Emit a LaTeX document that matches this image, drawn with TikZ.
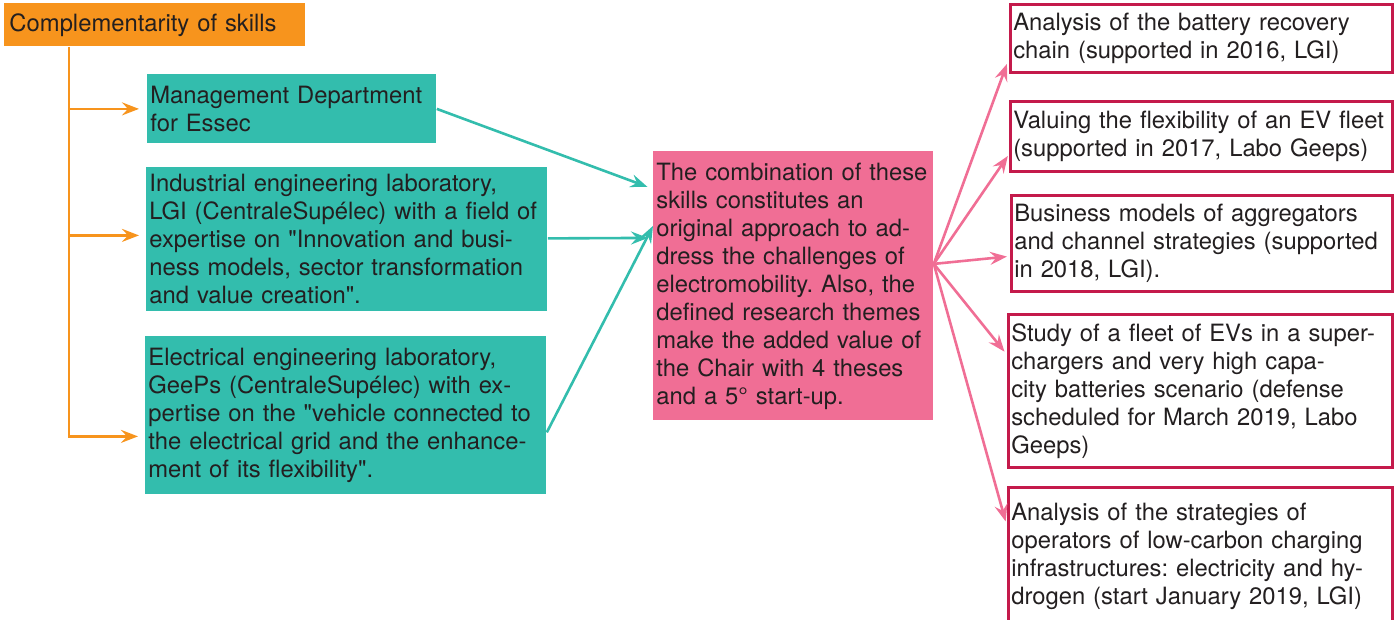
\documentclass[tikz,border=0pt]{standalone}
\usepackage{fontspec}
\setmainfont{TeX Gyre Heros}[Ligatures=TeXOff]
\usetikzlibrary{arrows.meta,calc}

\definecolor{skillorange}{HTML}{F7941D}
\definecolor{labteal}{HTML}{33BDAD}
\definecolor{chairpink}{HTML}{F06E95}
\definecolor{themered}{HTML}{C41A4B}
\definecolor{inkgrey}{HTML}{231F20}

\tikzset{
  box/.style={anchor=north west, align=left, inner xsep=1.5pt, inner ysep=0pt,
    text=inkgrey, font=\fontsize{11.9}{14}\selectfont\frenchspacing},
  labbox/.style={box, fill=labteal},
  themebox/.style={box, draw=themered, line width=1.3pt, fill=white},
  arr/.style={-{Stealth[length=8.5pt,width=6.5pt,inset=3pt]}, line width=1.3pt},
}

\begin{document}
\begin{tikzpicture}[x=0.5pt,y=-0.5pt]
		\useasboundingbox (0,0) rectangle (1399,620);
		% skills and laboratories
		\node[box, fill=skillorange, text width=147.5pt, minimum height=21.5pt] (skills) at (4,3) {\hspace{1pt}Complementarity of skills};
		\node[labbox, text width=141.5pt, minimum height=34.5pt] (mgmt) at (147,74) {Management Department\\for Essec};
		\node[labbox, text width=197.5pt, minimum height=72pt] (lgi) at (146,167) {Industrial engineering laboratory,\\LGI (CentraleSupélec) with a field of\\expertise on "Innovation and busi-\\ness models, sector transformation\\and value creation".};
		\node[labbox, text width=197.5pt, minimum height=79pt] (geeps) at (145,336) {Electrical engineering laboratory,\\GeePs (CentraleSupélec) with ex-\\pertise on the "vehicle connected to\\the electrical grid and the enhance-\\ment of its flexibility".};
		% the chair
		\node[box, fill=chairpink, text width=137pt, minimum height=134.5pt] (combo) at (653,151) {The combination of these\\skills constitutes an\\original approach to ad-\\dress the challenges of\\electromobility. Also, the\\defined research themes\\make the added value of\\the Chair with 4 theses\\and a 5° start-up.};
		% research themes
		\node[themebox, text width=188pt, minimum height=34pt] (th1) at (1009,3) {Analysis of the battery recovery\\chain (supported in 2016, LGI)};
		\node[themebox, text width=188pt, minimum height=35pt] (th2) at (1009,100) {Valuing the flexibility of an EV fleet\\(supported in 2017, Labo Geeps)};
		\node[themebox, text width=187.5pt, minimum height=48pt] (th3) at (1010,194) {Business models of aggregators\\and channel strategies (supported\\in 2018, LGI).};
		\node[themebox, text width=189pt, minimum height=76.5pt] (th4) at (1007,313) {Study of a fleet of EVs in a super-\\chargers and very high capa-\\city batteries scenario (defense\\scheduled for March 2019, Labo\\Geeps)};
		\node[themebox, text width=189pt, minimum height=69pt] (th5) at (1007,486) {Analysis of the strategies of\\operators of low-carbon charging\\infrastructures: electricity and hy-\\drogen (start January 2019, LGI)};
		% orange tree
		\coordinate (trunk) at ([xshift=32.5pt]skills.south west);
		\coordinate (lgiin) at ([yshift=2pt]lgi.west);
		\coordinate (geepsin) at ([yshift=-10.5pt]geeps.west);
		\draw[arr, skillorange, shorten >=3.5pt] (trunk) |- (geepsin);
		\draw[arr, skillorange, shorten >=4pt] (trunk |- mgmt.west) -- (mgmt.west);
		\draw[arr, skillorange, shorten >=3.5pt] (trunk |- lgiin) -- (lgiin);
		% teal arrows
		\draw[arr, labteal, shorten >=3pt] (mgmt.east) -- ([yshift=48.5pt]combo.west);
		\draw[arr, labteal, shorten >=2.5pt] ([yshift=0.5pt]lgi.east) -- ([yshift=24pt]combo.west);
		\draw[arr, labteal] ([yshift=-8.5pt]geeps.east) -- ([yshift=30pt]combo.west);
		% pink fan
		\coordinate (fan) at ([yshift=11pt]combo.east);
		\draw[arr, chairpink, shorten >=3pt] (fan) -- ([yshift=-10pt]th1.west);
		\draw[arr, chairpink, shorten >=1pt] (fan) -- ([yshift=-9pt]th2.west);
		\draw[arr, chairpink, shorten >=1.5pt] (fan) -- ([yshift=-6.5pt]th3.west);
		\draw[arr, chairpink, shorten >=2pt] (fan) -- ([yshift=18pt]th4.west);
		\draw[arr, chairpink, shorten >=2.5pt] (fan) -- ([yshift=15pt]th5.west);
\end{tikzpicture}
\end{document}
